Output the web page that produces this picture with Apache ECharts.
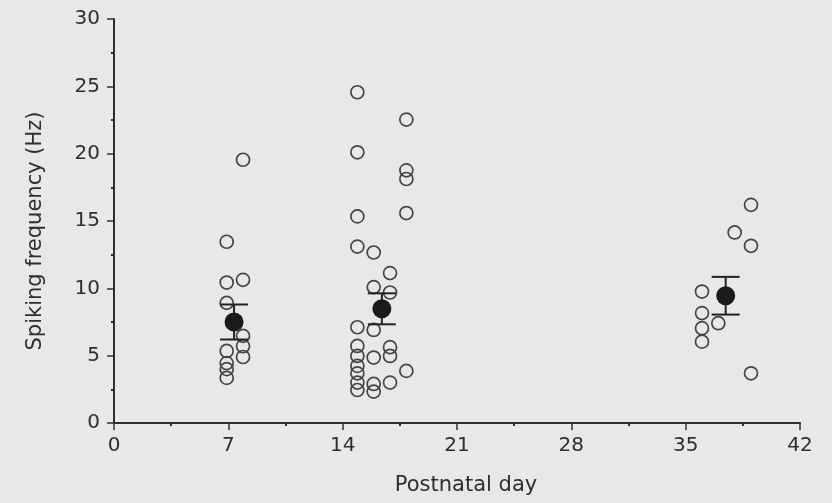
<!DOCTYPE html>
<html>
<head>
<meta charset="utf-8">
<script src="https://cdn.jsdelivr.net/npm/echarts@6/dist/echarts.min.js"></script>
<style>
  html, body { margin: 0; padding: 0; background: #e8e8e8; }
  #chart { width: 832px; height: 503px; }
</style>
</head>
<body>
<div id="chart"></div>
<script>
// Individual cells, grouped by the day column they are plotted in
const colDays = [6.9, 7.9, 14.9, 15.9, 16.9, 17.9, 36.0, 37.0, 38.0, 39.0];
const colHz = [
  [13.46, 10.43, 8.92, 5.35, 4.45, 4.0, 3.35],
  [19.55, 10.63, 6.47, 5.7, 4.9],
  [24.56, 20.1, 15.34, 13.1, 7.11, 5.72, 4.98, 4.24, 3.69, 3.0, 2.45],
  [12.66, 10.09, 6.91, 4.86, 2.9, 2.33],
  [11.13, 9.69, 5.63, 4.98, 3.0],
  [22.53, 18.76, 18.12, 15.59, 3.87],
  [9.76, 8.16, 7.04, 6.04],
  [7.41],
  [14.15],
  [16.2, 13.16, 3.69]
];

// Group means with standard error
const meanDays = [7.35, 16.4, 37.45];
const meanHz = [7.5, 8.48, 9.45];
const semHz = [1.3, 1.15, 1.4];

const cells = [];
colDays.forEach((d, i) => colHz[i].forEach(v => cells.push([d, v])));
const means = meanDays.map((d, i) => [d, meanHz[i]]);
const errors = meanDays.map((d, i) => [d, meanHz[i] - semHz[i], meanHz[i] + semHz[i]]);

const ink = '#2e2e2e';
const font = 'DejaVu Sans';

const chart = echarts.init(document.getElementById('chart'));
chart.setOption({
  backgroundColor: '#e8e8e8',
  animation: false,
  grid: { left: 114, right: 32, top: 19, bottom: 80 },
  xAxis: {
    type: 'value', min: 0, max: 42, interval: 7,
    name: 'Postnatal day', nameLocation: 'middle', nameGap: 52,
    nameTextStyle: { fontFamily: font, fontSize: 21, color: ink, padding: [0, 0, 0, 18] },
    axisLine: { show: true, onZero: false, lineStyle: { color: ink, width: 2 } },
    axisTick: { show: true, inside: false, length: 7, lineStyle: { color: ink, width: 1.5 } },
    minorTick: { show: true, splitNumber: 2, length: 3, lineStyle: { color: ink, width: 2 } },
    axisLabel: { fontFamily: font, fontSize: 20, color: ink, margin: 13 },
    splitLine: { show: false }
  },
  yAxis: {
    type: 'value', min: 0, max: 30, interval: 5,
    name: 'Spiking frequency (Hz)', nameLocation: 'middle', nameGap: 68, nameRotate: 90,
    nameTextStyle: { fontFamily: font, fontSize: 21, color: ink, padding: [0, 20, 0, 0] },
    axisLine: { show: true, onZero: false, lineStyle: { color: ink, width: 2 } },
    axisTick: { show: true, inside: false, length: 7, lineStyle: { color: ink, width: 1.5 } },
    minorTick: { show: true, splitNumber: 2, length: 3, lineStyle: { color: ink, width: 2 } },
    axisLabel: { fontFamily: font, fontSize: 20, color: ink, margin: 14 },
    splitLine: { show: false }
  },
  series: [
    {
      type: 'scatter',
      data: cells,
      symbol: 'circle',
      symbolSize: 13,
      itemStyle: { color: 'rgba(0,0,0,0)', borderColor: '#454545', borderWidth: 1.7, opacity: 1 },
      z: 2
    },
    {
      type: 'custom',
      data: errors,
      z: 3,
      renderItem: function (params, api) {
        const x = api.value(0);
        const lo = api.coord([x, api.value(1)]);
        const hi = api.coord([x, api.value(2)]);
        const half = 14;
        const style = { stroke: '#222222', lineWidth: 2 };
        return {
          type: 'group',
          children: [
            { type: 'line', shape: { x1: lo[0], y1: lo[1], x2: hi[0], y2: hi[1] }, style: style },
            { type: 'line', shape: { x1: lo[0] - half, y1: lo[1], x2: lo[0] + half, y2: lo[1] }, style: style },
            { type: 'line', shape: { x1: hi[0] - half, y1: hi[1], x2: hi[0] + half, y2: hi[1] }, style: style }
          ]
        };
      }
    },
    {
      type: 'scatter',
      data: means,
      symbol: 'circle',
      symbolSize: 19,
      itemStyle: { color: '#1a1a1a', opacity: 1 },
      z: 4
    }
  ]
});
</script>
</body>
</html>
